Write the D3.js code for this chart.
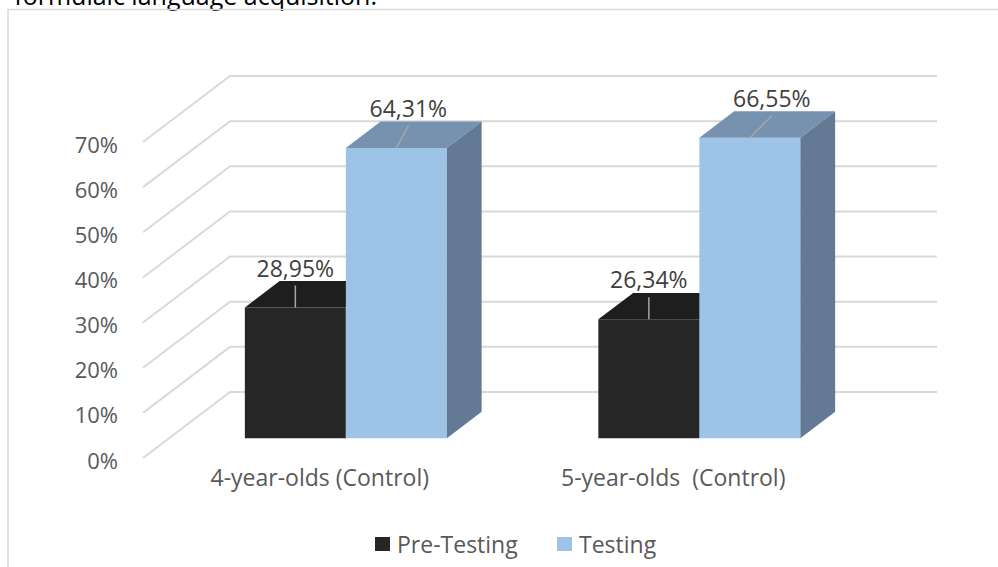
<!DOCTYPE html>
<html>
<head>
<meta charset="utf-8">
<script src="https://cdn.jsdelivr.net/npm/d3@7"></script>
<style>
  html, body { margin: 0; padding: 0; background: #ffffff; }
  svg { display: block; }
  text { font-family: "Open Sans", "Noto Sans", sans-serif; }
</style>
</head>
<body>
<svg id="chart" width="998" height="567"></svg>
<script>
// ---- data ----
const categories = ["4-year-olds (Control)", "5-year-olds  (Control)"];
const seriesNames = ["Pre-Testing", "Testing"];
const preTesting = [0.2895, 0.2634];
const testing = [0.6431, 0.6655];
const yTicks = [0, 0.1, 0.2, 0.3, 0.4, 0.5, 0.6, 0.7];
const labelShift = [[0, 0], [12, 22]]; // per series, per category leader x-offset

// ---- styles ----
const colors = {
  front: ["#262626", "#9dc3e6"],
  top:   ["#1e1e1e", "#7692b0"],
  side:  ["#1a1a1a", "#647a94"]
};

const svg = d3.select("#chart");

// leftover caption text from the page above the chart
svg.append("text")
  .attr("x", 377).attr("y", 5)
  .attr("text-anchor", "end")
  .attr("font-size", 25)
  .attr("fill", "#000")
  .text("formulaic language acquisition.");

// chart border
svg.append("rect")
  .attr("x", 8).attr("y", 9.5)
  .attr("width", 1100).attr("height", 700)
  .attr("fill", "none")
  .attr("stroke", "#d9d9d9")
  .attr("stroke-width", 1.5);

// ---- scales (front plane) ----
const x = d3.scaleBand().domain(categories).range([143, 850]).paddingInner(0).paddingOuter(0);
const y = d3.scaleLinear().domain([0, 0.7]).range([458, 142]);
const depth = { dx: 87, dy: -66 };   // full floor depth
const barD0 = 0.3, barD1 = 0.7;       // bar depth extent
const barW = x.bandwidth() / 3.5;     // gap width 150%
const sub = d3.scaleBand().domain(seriesNames).paddingInner(0).paddingOuter(0);

const P = (px, py, d) => [px + depth.dx * d, py + depth.dy * d];

// ---- gridlines: left wall diagonals + back wall horizontals ----
const grid = svg.append("g");
yTicks.forEach(v => {
  const a = [x.range()[0], y(v)];
  const b = P(a[0], a[1], 1);
  const c = P(x.range()[1], y(v), 1);
  grid.append("path")
    .attr("d", d3.line()([a, b, c]))
    .attr("fill", "none")
    .attr("stroke", "#d9d9d9")
    .attr("stroke-width", 2);
});

// y tick labels
svg.append("g").selectAll("text").data(yTicks).join("text")
  .attr("x", 118)
  .attr("y", d => y(d) + 1.5)
  .attr("text-anchor", "end")
  .attr("dominant-baseline", "central")
  .attr("font-size", 22)
  .attr("fill", "#595959")
  .text(d => d3.format(".0%")(d));

// ---- bars ----
const seriesVals = [preTesting, testing];
const bars = svg.append("g");
const fmt = v => d3.format(".2f")(v * 100).replace(".", ",") + "%";
const labelData = [];

categories.forEach((cat, ci) => {
  const center = x(cat) + x.bandwidth() / 2;
  sub.range([center - barW, center + barW]);
  seriesNames.forEach((s, si) => {
    const v = seriesVals[si][ci];
    const x0 = sub(s), x1 = x0 + sub.bandwidth();
    const yt = y(v), yb = y(0);
    const fbl = P(x0, yb, barD0), fbr = P(x1, yb, barD0);
    const ftl = P(x0, yt, barD0), ftr = P(x1, yt, barD0);
    const btl = P(x0, yt, barD1), btr = P(x1, yt, barD1), bbr = P(x1, yb, barD1);
    bars.append("path").attr("d", d3.line()([fbl, fbr, ftr, ftl]) + "Z")
      .attr("fill", colors.front[si]);
    bars.append("path").attr("d", d3.line()([ftl, ftr, btr, btl]) + "Z")
      .attr("fill", colors.top[si]);
    bars.append("path").attr("d", d3.line()([fbr, bbr, btr, ftr]) + "Z")
      .attr("fill", colors.side[si]);
    const cx = (ftl[0] + ftr[0]) / 2;
    labelData.push({ v, cx, cy: ftl[1], shift: labelShift[si][ci] });
  });
});

// data labels with leader lines
const lab = svg.append("g");
labelData.forEach(d => {
  lab.append("line")
    .attr("x1", d.cx).attr("y1", d.cy)
    .attr("x2", d.cx + d.shift).attr("y2", d.cy - 22)
    .attr("stroke", "#a6a6a6").attr("stroke-width", 1.5);
  lab.append("text")
    .attr("x", d.cx + d.shift)
    .attr("y", d.cy - 40)
    .attr("text-anchor", "middle")
    .attr("dominant-baseline", "central")
    .attr("font-size", 23)
    .attr("fill", "#404040")
    .text(fmt(d.v));
});

// category labels
svg.append("g").selectAll("text").data(categories).join("text")
  .attr("x", d => x(d) + x.bandwidth() / 2)
  .attr("y", 477)
  .attr("text-anchor", "middle")
  .attr("dominant-baseline", "central")
  .attr("font-size", 23)
  .attr("fill", "#595959")
  .attr("xml:space", "preserve")
  .style("white-space", "pre")
  .text(d => d);

// legend
const legend = svg.append("g");
const legendX = [375, 557];
seriesNames.forEach((s, i) => {
  legend.append("rect")
    .attr("x", legendX[i]).attr("y", 537)
    .attr("width", 15).attr("height", 14)
    .attr("fill", colors.front[i]);
  legend.append("text")
    .attr("x", legendX[i] + 22).attr("y", 544)
    .attr("dominant-baseline", "central")
    .attr("font-size", 23)
    .attr("fill", "#595959")
    .text(s);
});
</script>
</body>
</html>
